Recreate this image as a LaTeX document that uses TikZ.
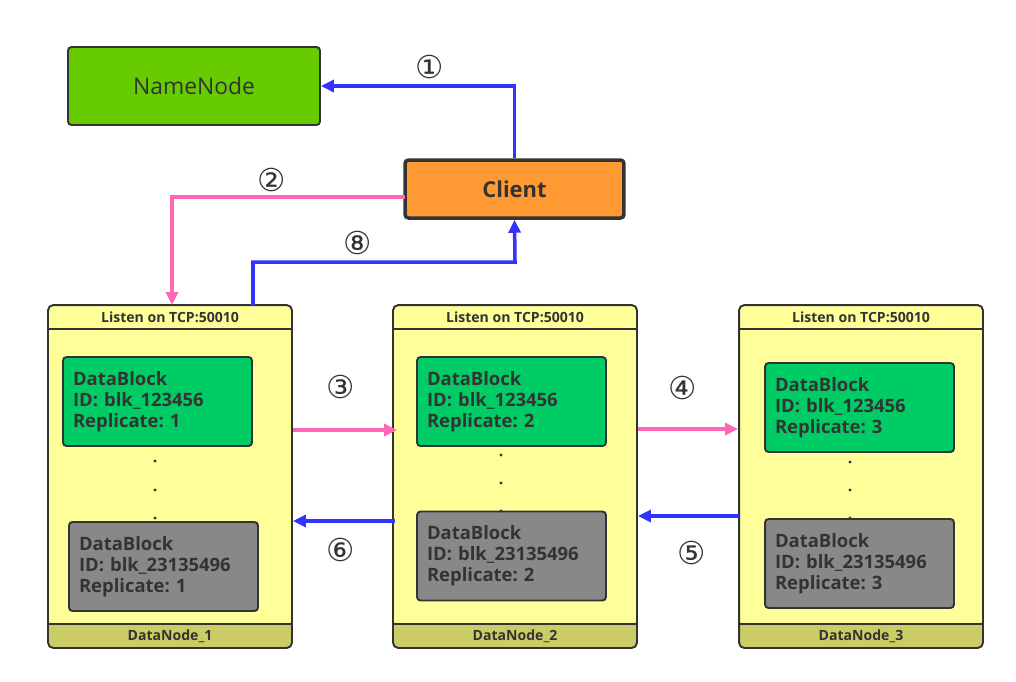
\documentclass[tikz,border=0pt]{standalone}
\usepackage{fontspec}
\setmainfont{Open Sans}
\newfontfamily\circfont{DejaVu Sans}
\usetikzlibrary{arrows.meta}
\definecolor{linegray}{HTML}{333333}
\definecolor{nngreen}{HTML}{66CC00}
\definecolor{clorange}{HTML}{FF9933}
\definecolor{dnyellow}{HTML}{FFFF99}
\definecolor{dnfoot}{HTML}{CCCC66}
\definecolor{blkgreen}{HTML}{00CC66}
\definecolor{blkgray}{HTML}{888888}
\definecolor{pinkline}{HTML}{FF66B3}
\definecolor{blueline}{HTML}{3333FF}
\frenchspacing
\begin{document}
\begin{tikzpicture}[x=0.02cm, y=-0.02cm,
  namebox/.style = {draw=linegray, line width=1.1pt, rounded corners=2pt, fill=nngreen, text=linegray, minimum width=5.04cm, minimum height=1.56cm, font=\fontsize{13}{15}\selectfont},
  clientbox/.style = {draw=linegray, line width=2pt, rounded corners=2pt, fill=clorange, text=linegray, minimum width=4.38cm, minimum height=1.16cm, font=\bfseries\fontsize{12.5}{14}\selectfont},
  dnbox/.style = {draw=linegray, line width=1.1pt, rounded corners=3pt, fill=dnfoot, minimum width=4.88cm, minimum height=6.86cm,
    path picture={
      \fill[dnyellow] (path picture bounding box.north west) rectangle ([yshift=0.48cm]path picture bounding box.south east);
      \draw[linegray, line width=1.1pt] ([yshift=-0.48cm]path picture bounding box.north west) -- ([yshift=-0.48cm]path picture bounding box.north east);
      \draw[linegray, line width=1.1pt] ([yshift=0.48cm]path picture bounding box.south west) -- ([yshift=0.48cm]path picture bounding box.south east);}},
  block/.style = {draw=linegray, line width=1.1pt, rounded corners=2pt, text=linegray, minimum width=3.78cm, minimum height=1.78cm, text width=3.38cm, inner xsep=0.2cm, align=left, font=\bfseries\fontsize{10.5}{12}\selectfont},
  dntxt/.style = {text=linegray, font=\bfseries\fontsize{8}{9}\selectfont},
  num/.style = {text=linegray, font=\circfont\fontsize{18}{20}\selectfont},
  pinkarr/.style = {draw=pinkline, line width=2pt, -{Triangle[length=0.26cm, width=0.24cm]}},
  bluearr/.style = {draw=blueline, line width=2pt, -{Triangle[length=0.26cm, width=0.24cm]}},
  dot/.style = {fill=linegray}]
\useasboundingbox (0,0) rectangle (1016,681);

\node[namebox] (namenode) at (194,86) {NameNode};
\node[clientbox] (client) at (514.5,189) {Client};

\node[dnbox] (dn1) at (170,476.5) {};
\node[dnbox] (dn2) at (515,476.5) {};
\node[dnbox] (dn3) at (861,476.5) {};

\node[dntxt] (dn1head) at (170,317) {Listen on TCP:50010};
\node[dntxt] (dn2head) at (515,317) {Listen on TCP:50010};
\node[dntxt] (dn3head) at (861,317) {Listen on TCP:50010};
\node[dntxt] (dn1foot) at (170,636) {DataNode\_1};
\node[dntxt] (dn2foot) at (515,636) {DataNode\_2};
\node[dntxt] (dn3foot) at (861,636) {DataNode\_3};

\node[block, fill=blkgreen] (b11) at (157.5,401.5) {DataBlock\\ID: blk\_123456\\Replicate: 1};
\node[block, fill=blkgray] (b12) at (163.5,566.5) {DataBlock\\ID: blk\_23135496\\Replicate: 1};
\node[block, fill=blkgreen] (b21) at (511.5,401.5) {DataBlock\\ID: blk\_123456\\Replicate: 2};
\node[block, fill=blkgray] (b22) at (511.5,556) {DataBlock\\ID: blk\_23135496\\Replicate: 2};
\node[block, fill=blkgreen] (b31) at (859.5,407.5) {DataBlock\\ID: blk\_123456\\Replicate: 3};
\node[block, fill=blkgray] (b32) at (859.5,563.5) {DataBlock\\ID: blk\_23135496\\Replicate: 3};

% dots between the blocks
\fill[dot] (155,461) circle (1.6);
\fill[dot] (155,490) circle (1.6);
\fill[dot] (155,518) circle (1.6);
\fill[dot] (501,455) circle (1.6);
\fill[dot] (501,483) circle (1.6);
\fill[dot] (501,511) circle (1.6);
\fill[dot] (850,462) circle (1.6);
\fill[dot] (850,490) circle (1.6);
\fill[dot] (850,518) circle (1.6);

% connectors
\coordinate (c2) at (405,197);
\coordinate (d2) at (172,305);
\coordinate (d8) at (253,305);
\coordinate (k8) at (515,262);
\coordinate (a3) at (345,430);
\coordinate (a4) at (687,429);
\coordinate (a5) at (687,516);
\coordinate (a6) at (345,521);

\draw[bluearr] (client.north) |- (namenode.east);
\draw[pinkarr] (c2) -| (d2);
\draw[bluearr] (d8) |- (k8) -- (client.south);
\draw[pinkarr, shorten >=-0.1cm] (dn1.east |- a3) -- (dn2.west |- a3);
\draw[pinkarr] (dn2.east |- a4) -- (dn3.west |- a4);
\draw[bluearr, shorten <=-0.02cm] (dn3.west |- a5) -- (dn2.east |- a5);
\draw[bluearr, shorten <=-0.06cm] (dn2.west |- a6) -- (dn1.east |- a6);

\node[num] (n1) at (430,67) {①};
\node[num] (n2) at (272,180) {②};
\node[num] (n8) at (358,243) {⑧};
\node[num] (n3) at (341,387) {③};
\node[num] (n4) at (683,388) {④};
\node[num] (n5) at (692,553) {⑤};
\node[num] (n6) at (341,550) {⑥};
\end{tikzpicture}
\end{document}
